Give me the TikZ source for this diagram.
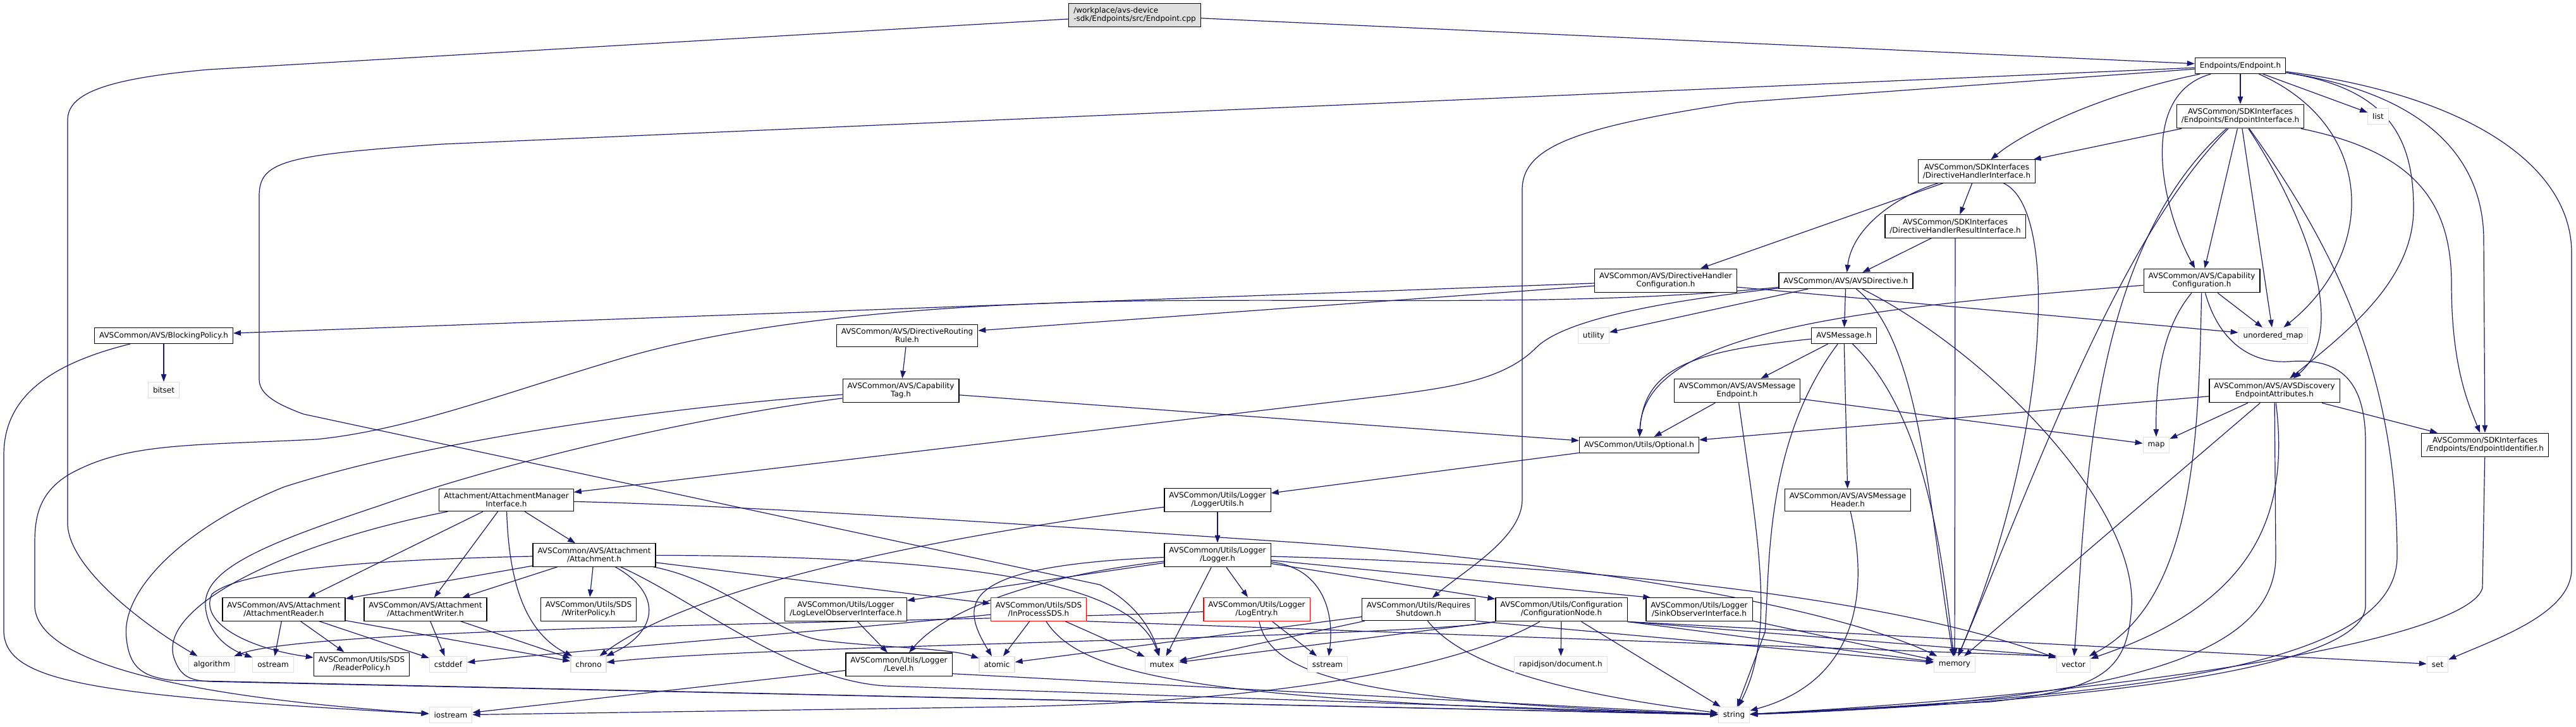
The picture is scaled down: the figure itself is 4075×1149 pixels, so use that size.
\documentclass[tikz,border=0pt]{standalone}
\usepackage{fontspec}
\setmainfont{DejaVu Sans}
\usetikzlibrary{arrows.meta,backgrounds}
\definecolor{edgeblue}{HTML}{191970}
\tikzset{
  hdr/.style={draw=black, fill=white, line width=1.2pt, inner xsep=7.5pt, inner ysep=6.5pt,
    minimum height=25pt, align=center, font=\fontsize{12}{13}\selectfont},
  syshdr/.style={hdr, draw=gray!25},
  redhdr/.style={hdr, draw=red},
  roothdr/.style={hdr, fill=gray!25, align=left},
  dep/.style={draw=edgeblue, line width=1.2pt, -{Triangle[length=12pt,width=8.5pt]}}
}
\begin{document}
\begin{tikzpicture}[x=1pt,y=-1pt]
\useasboundingbox (0,0) rectangle (4075,1149);
\node[roothdr] (cpp) at (1795,24) {/workplace/avs-device\\-sdk/Endpoints/src/Endpoint.cpp};
\node[hdr] (ep) at (3544,104) {Endpoints/Endpoint.h};
\node[syshdr] (list) at (3762,184) {list};
\node[hdr] (epi) at (3544,184) {AVSCommon/SDKInterfaces\\/Endpoints/EndpointInterface.h};
\node[hdr] (dhi) at (3127,271) {AVSCommon/SDKInterfaces\\/DirectiveHandlerInterface.h};
\node[hdr] (dhri) at (3093,358) {AVSCommon/SDKInterfaces\\/DirectiveHandlerResultInterface.h};
\node[hdr] (dhcfg) at (2635,444) {AVSCommon/AVS/DirectiveHandler\\Configuration.h};
\node[hdr] (avsdir) at (2920,444) {AVSCommon/AVS/AVSDirective.h};
\node[syshdr] (utility) at (2521,531) {utility};
\node[hdr] (avsmsg) at (2917,531) {AVSMessage.h};
\node[hdr] (amep) at (2748,618) {AVSCommon/AVS/AVSMessage\\Endpoint.h};
\node[hdr] (optional) at (2593,704) {AVSCommon/Utils/Optional.h};
\node[hdr] (amhdr) at (2923,791) {AVSCommon/AVS/AVSMessage\\Header.h};
\node[hdr] (capcfg) at (3483,444) {AVSCommon/AVS/Capability\\Configuration.h};
\node[syshdr] (umap) at (3596,531) {unordered\_map};
\node[hdr] (disc) at (3598,618) {AVSCommon/AVS/AVSDiscovery\\EndpointAttributes.h};
\node[syshdr] (map) at (3411,704) {map};
\node[hdr] (eid) at (3931,704) {AVSCommon/SDKInterfaces\\/Endpoints/EndpointIdentifier.h};
\node[hdr] (blocking) at (259,531) {AVSCommon/AVS/BlockingPolicy.h};
\node[syshdr] (bitset) at (259,617) {bitset};
\node[hdr] (drr) at (1435,531) {AVSCommon/AVS/DirectiveRouting\\Rule.h};
\node[hdr] (captag) at (1425,618) {AVSCommon/AVS/Capability\\Tag.h};
\node[hdr] (ami) at (801,791) {Attachment/AttachmentManager\\Interface.h};
\node[hdr] (lutils) at (1926,791) {AVSCommon/Utils/Logger\\/LoggerUtils.h};
\node[hdr] (attach) at (940,878) {AVSCommon/AVS/Attachment\\/Attachment.h};
\node[hdr] (logger) at (1926,878) {AVSCommon/Utils/Logger\\/Logger.h};
\node[hdr] (areader) at (449,964) {AVSCommon/AVS/Attachment\\/AttachmentReader.h};
\node[hdr] (awriter) at (673,964) {AVSCommon/AVS/Attachment\\/AttachmentWriter.h};
\node[hdr] (wpolicy) at (931,964) {AVSCommon/Utils/SDS\\/WriterPolicy.h};
\node[hdr] (llobs) at (1338,964) {AVSCommon/Utils/Logger\\/LogLevelObserverInterface.h};
\node[redhdr] (insds) at (1643,964) {AVSCommon/Utils/SDS\\/InProcessSDS.h};
\node[redhdr] (logentry) at (1988,964) {AVSCommon/Utils/Logger\\/LogEntry.h};
\node[hdr] (reqsd) at (2244,964) {AVSCommon/Utils/Requires\\Shutdown.h};
\node[hdr] (cfgnode) at (2470,964) {AVSCommon/Utils/Configuration\\/ConfigurationNode.h};
\node[hdr] (sinkobs) at (2688,964) {AVSCommon/Utils/Logger\\/SinkObserverInterface.h};
\node[syshdr] (algorithm) at (335,1051) {algorithm};
\node[syshdr] (ostream) at (432,1051) {ostream};
\node[hdr] (rpolicy) at (572,1051) {AVSCommon/Utils/SDS\\/ReaderPolicy.h};
\node[syshdr] (cstddef) at (709,1051) {cstddef};
\node[syshdr] (chrono) at (931,1051) {chrono};
\node[hdr] (level) at (1422,1051) {AVSCommon/Utils/Logger\\/Level.h};
\node[syshdr] (atomic) at (1577,1051) {atomic};
\node[syshdr] (mutex) at (1838,1051) {mutex};
\node[syshdr] (sstream) at (2100,1051) {sstream};
\node[syshdr] (rapidjson) at (2469,1051) {rapidjson/document.h};
\node[syshdr] (memory) at (3092,1051) {memory};
\node[syshdr] (vector) at (3280,1051) {vector};
\node[syshdr] (set) at (3856,1051) {set};
\node[syshdr] (iostream) at (713,1131) {iostream};
\node[syshdr] (string) at (2743,1131) {string};
\begin{scope}[on background layer]
\draw[dep] (cpp) -- (ep);
\draw[dep] (cpp) -- (330,110) .. controls (160,125) and (107,150) .. (107,190) -- (107,830) .. controls (110,900) and (230,990) .. (algorithm);
\draw[dep] (ep) -- (list); \draw[dep] (ep) -- (epi);
\draw[dep] (ep) .. controls (3320,150) and (3200,210) .. (dhi);
\draw[dep] (ep) .. controls (3380,150) and (3420,330) .. (capcfg);
\draw[dep] (ep) .. controls (3760,200) and (3760,400) .. (umap);
\draw[dep] (ep) .. controls (3780,140) and (3818,220) .. (3818,330) .. controls (3818,440) and (3720,520) .. (disc);
\draw[dep] (ep) .. controls (3850,150) and (3929,260) .. (3929,380) -- (eid);
\draw[dep] (ep) .. controls (3900,150) and (4068,260) .. (4068,400) -- (4068,900) .. controls (4068,970) and (3950,1010) .. (set);
\draw[dep] (ep) -- (2750,162) .. controls (2500,200) and (2408,230) .. (2408,300) -- (2408,790) .. controls (2408,850) and (2320,900) .. (reqsd);
\draw[dep] (ep) -- (700,228) .. controls (450,245) and (410,255) .. (410,310) -- (410,600) .. controls (410,625) and (440,640) .. (480,655) -- (1740,925) .. controls (1790,950) and (1820,990) .. (mutex);
\draw[dep] (epi) -- (dhi); \draw[dep] (epi) -- (capcfg); \draw[dep] (epi) -- (umap);
\draw[dep] (epi) .. controls (3350,380) and (3220,750) .. (memory);
\draw[dep] (epi) .. controls (3300,400) and (3300,800) .. (vector);
\draw[dep] (epi) .. controls (3640,330) and (3720,520) .. ([xshift=30pt]disc.north);
\draw[dep] (epi) .. controls (3700,400) and (3792,600) .. (3792,880) .. controls (3792,1050) and (3400,1100) .. (string);
\draw[dep] (epi) .. controls (3820,240) and (3878,320) .. (3878,450) .. controls (3878,580) and (3905,640) .. (eid);
\draw[dep] (dhi) -- (dhcfg); \draw[dep] (dhi) -- (dhri);
\draw[dep] (dhi) .. controls (3000,310) and (2930,360) .. (avsdir);
\draw[dep] (dhi) .. controls (3260,330) and (3240,700) .. (memory);
\draw[dep] (dhri) -- (avsdir); \draw[dep] (dhri) -- (memory);
\draw[dep] (dhcfg) -- (blocking); \draw[dep] (dhcfg) -- (drr); \draw[dep] (dhcfg) -- (umap);
\draw[dep] (avsdir) -- (utility); \draw[dep] (avsdir) -- (avsmsg);
\draw[dep] (avsdir) .. controls (2600,480) and (2470,510) .. (2430,550) .. controls (2380,600) and (2300,612) .. (2200,625) -- (ami);
\draw[dep] (avsdir) .. controls (3040,540) and (3050,800) .. (memory);
\draw[dep] (avsdir) .. controls (3150,560) and (3380,800) .. (3372,960) .. controls (3365,1060) and (3330,1090) .. (3150,1110) -- (string);
\draw[dep] (avsdir) .. controls (2500,485) and (2200,472) .. (1800,476) .. controls (1400,482) and (1150,520) .. (1000,562) .. controls (800,620) and (650,680) .. (500,695) .. controls (300,705) and (200,700) .. (110,750) .. controls (60,780) and (55,820) .. (55,860) -- (55,960) .. controls (60,1040) and (250,1100) .. (iostream);
\draw[dep] (avsmsg) -- (amep); \draw[dep] (avsmsg) -- (amhdr);
\draw[dep] (avsmsg) .. controls (2680,555) and (2600,580) .. (optional);
\draw[dep] (avsmsg) .. controls (3040,650) and (3070,850) .. (memory);
\draw[dep] (avsmsg) .. controls (2790,700) and (2800,900) .. (2792,1000) -- (string);
\draw[dep] (amep) -- (optional); \draw[dep] (amep) -- (map);
\draw[dep] (amep) .. controls (2780,850) and (2810,1000) .. (string);
\draw[dep] (amhdr) .. controls (2960,950) and (2930,1080) .. (string);
\draw[dep] (capcfg) .. controls (2900,490) and (2600,530) .. (optional);
\draw[dep] (capcfg) -- (umap);
\draw[dep] (capcfg) .. controls (3420,520) and (3410,600) .. (map);
\draw[dep] (capcfg) .. controls (3478,700) and (3470,950) .. (vector);
\draw[dep] (capcfg) .. controls (3510,540) and (3560,575) .. (3620,572) .. controls (3700,565) and (3742,600) .. (3742,700) -- (3742,960) .. controls (3735,1060) and (3300,1110) .. (string);
\draw[dep] (disc) -- (optional); \draw[dep] (disc) -- (map); \draw[dep] (disc) -- (eid); \draw[dep] (disc) -- (memory);
\draw[dep] (disc) .. controls (3620,800) and (3580,950) .. (vector);
\draw[dep] (disc) -- (3600,880) .. controls (3600,1040) and (3350,1110) .. (string);
\draw[dep] (eid) -- (3927,930) .. controls (3905,1010) and (3400,1095) .. (string);
\draw[dep] (blocking) -- (bitset);
\draw[dep] (blocking) .. controls (60,580) and (6,640) .. (6,720) -- (6,1000) .. controls (10,1080) and (150,1100) .. (iostream);
\draw[dep] (drr) -- (captag); \draw[dep] (captag) -- (optional);
\draw[dep] (captag) .. controls (1100,640) and (700,690) .. (450,770) .. controls (300,830) and (190,930) .. (200,1010) .. controls (205,1060) and (230,1070) .. (270,1076) -- (string);
\draw[dep] (captag) .. controls (1100,660) and (800,730) .. (600,800) .. controls (420,860) and (320,900) .. (325,960) .. controls (330,1010) and (370,1030) .. (ostream);
\draw[dep] (optional) -- (lutils);
\draw[dep] (ami) -- (attach); \draw[dep] (ami) -- (areader); \draw[dep] (ami) -- (awriter);
\draw[dep] (ami) .. controls (805,920) and (830,1000) .. (chrono);
\draw[dep] (ami) .. controls (1200,800) and (1700,835) .. (2050,858) .. controls (2500,890) and (2900,960) .. (memory);
\draw[dep] (ami) .. controls (450,860) and (250,960) .. (275,1040) .. controls (285,1070) and (300,1076) .. (330,1078) -- (string);
\draw[dep] (attach) -- (areader); \draw[dep] (attach) -- (awriter); \draw[dep] (attach) -- (wpolicy); \draw[dep] (attach) -- (insds);
\draw[dep] (attach) .. controls (1050,940) and (1040,1000) .. (chrono);
\draw[dep] (attach) .. controls (1500,880) and (1790,915) .. (mutex);
\draw[dep] (attach) .. controls (1150,920) and (1220,1000) .. (1300,1013) .. controls (1400,1025) and (1500,1025) .. (atomic);
\draw[dep] (attach) .. controls (1100,950) and (1250,1075) .. (1400,1085) -- (string);
\draw[dep] (attach) .. controls (600,885) and (380,900) .. (335,940) .. controls (315,985) and (390,1025) .. (rpolicy);
\draw[dep] (areader) -- (ostream); \draw[dep] (areader) -- (rpolicy); \draw[dep] (areader) -- (cstddef); \draw[dep] (areader) -- (chrono);
\draw[dep] (awriter) -- (cstddef); \draw[dep] (awriter) -- (chrono);
\draw[dep] (insds) -- (atomic); \draw[dep] (insds) -- (mutex);
\draw[dep] (insds) .. controls (1710,1070) and (1900,1110) .. (string);
\draw[dep] (insds.south east) -- (vector.north west);
\draw[dep] (insds) .. controls (1400,990) and (900,1030) .. (cstddef);
\draw[dep] (lutils) -- (logger);
\draw[dep] (lutils) .. controls (1400,860) and (1080,940) .. (chrono);
\draw[dep] (logger) -- (llobs); \draw[dep] (logger) -- (mutex); \draw[dep] (logger) -- (logentry); \draw[dep] (logger) -- (cfgnode);
\draw[dep] (logger) .. controls (1650,910) and (1500,960) .. (level);
\draw[dep] (logger) .. controls (1520,895) and (1515,950) .. (atomic);
\draw[dep] (logger) .. controls (2100,900) and (2110,980) .. (sstream);
\draw[dep] (logger) -- ([xshift=8pt]sinkobs.north west);
\draw[dep] (logger) .. controls (2400,890) and (2950,930) .. (vector);
\draw[dep] (llobs) -- (level);
\draw[dep] (logentry) -- (sstream);
\draw[dep] (logentry) .. controls (2010,1070) and (2150,1110) .. (string);
\draw[dep] (logentry) .. controls (1500,985) and (500,990) .. (algorithm);
\draw[dep] (level) -- (iostream); \draw[dep] ([yshift=4pt]level.south east) -- (string);
\draw[dep] (reqsd) -- (atomic); \draw[dep] (reqsd) -- (mutex); \draw[dep] (reqsd.south east) -- (memory);
\draw[dep] (reqsd) .. controls (2320,1060) and (2500,1100) .. (string);
\draw[dep] (cfgnode) -- (rapidjson); \draw[dep] (cfgnode) -- (string);
\draw[dep] (cfgnode) .. controls (2300,1060) and (2000,1110) .. (1600,1118) -- (iostream);
\draw[dep] (cfgnode.south west) -- (mutex);
\draw[dep] (cfgnode.south west) .. controls (2250,1008) and (1200,1020) .. (chrono);
\draw[dep] (cfgnode.south east) -- (memory); \draw[dep] (cfgnode.south east) -- (vector.north west); \draw[dep] (cfgnode.south east) -- (set);
\draw[dep] (sinkobs) -- (memory);
\end{scope}
\end{tikzpicture}
\end{document}
